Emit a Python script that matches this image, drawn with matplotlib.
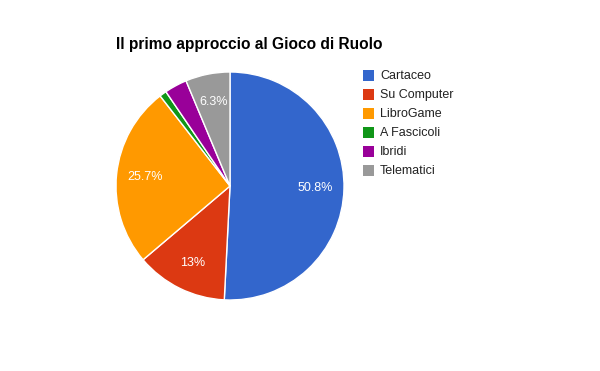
import matplotlib.pyplot as plt
from matplotlib.patches import Rectangle

# data
labels = ['Cartaceo', 'Su Computer', 'LibroGame', 'A Fascicoli', 'Ibridi', 'Telematici']
values = [50.8, 13.0, 25.7, 1.0, 3.2, 6.3]
colors = ['#3366cc', '#dc3912', '#ff9900', '#109618', '#990099', '#999999']

plt.rcParams['font.family'] = ['Liberation Sans', 'DejaVu Sans']

W, H = 600, 371
fig = plt.figure(figsize=(W / 100, H / 100), dpi=100)

# pie centre ~ (230, 186) px, radius ~114 px
cx, cy, r = 230, 186, 114
ax = fig.add_axes([(cx - r) / W, (H - cy - r) / H, 2 * r / W, 2 * r / H])


def fmt(p):
    if p < 5:
        return ''
    s = f'{p:.1f}'.rstrip('0').rstrip('.')
    return s + '%'


wedges, texts, autotexts = ax.pie(values, colors=colors, startangle=90, counterclock=False,
                                  autopct=fmt, pctdistance=0.75, radius=1,
                                  wedgeprops=dict(edgecolor='white', linewidth=1))
for t in autotexts:
    t.set_color('white')
    t.set_fontsize(9)
ax.set_xlim(-1, 1)
ax.set_ylim(-1, 1)
ax.set_aspect('auto')
ax.axis('off')

fig.text(116 / W, 1 - 45 / H, 'Il primo approccio al Gioco di Ruolo',
         fontsize=11.2, fontweight='bold', va='center', ha='left')

# legend
for i, (lab, col) in enumerate(zip(labels, colors)):
    y = 76 + 19 * i
    fig.patches.append(Rectangle((363 / W, 1 - (y + 5) / H), 11 / W, 11 / H,
                                 transform=fig.transFigure, facecolor=col, edgecolor='none'))
    fig.text(380 / W, 1 - y / H, lab, fontsize=9, color='#222222', va='center', ha='left')

fig.savefig('out.png', dpi=100)
